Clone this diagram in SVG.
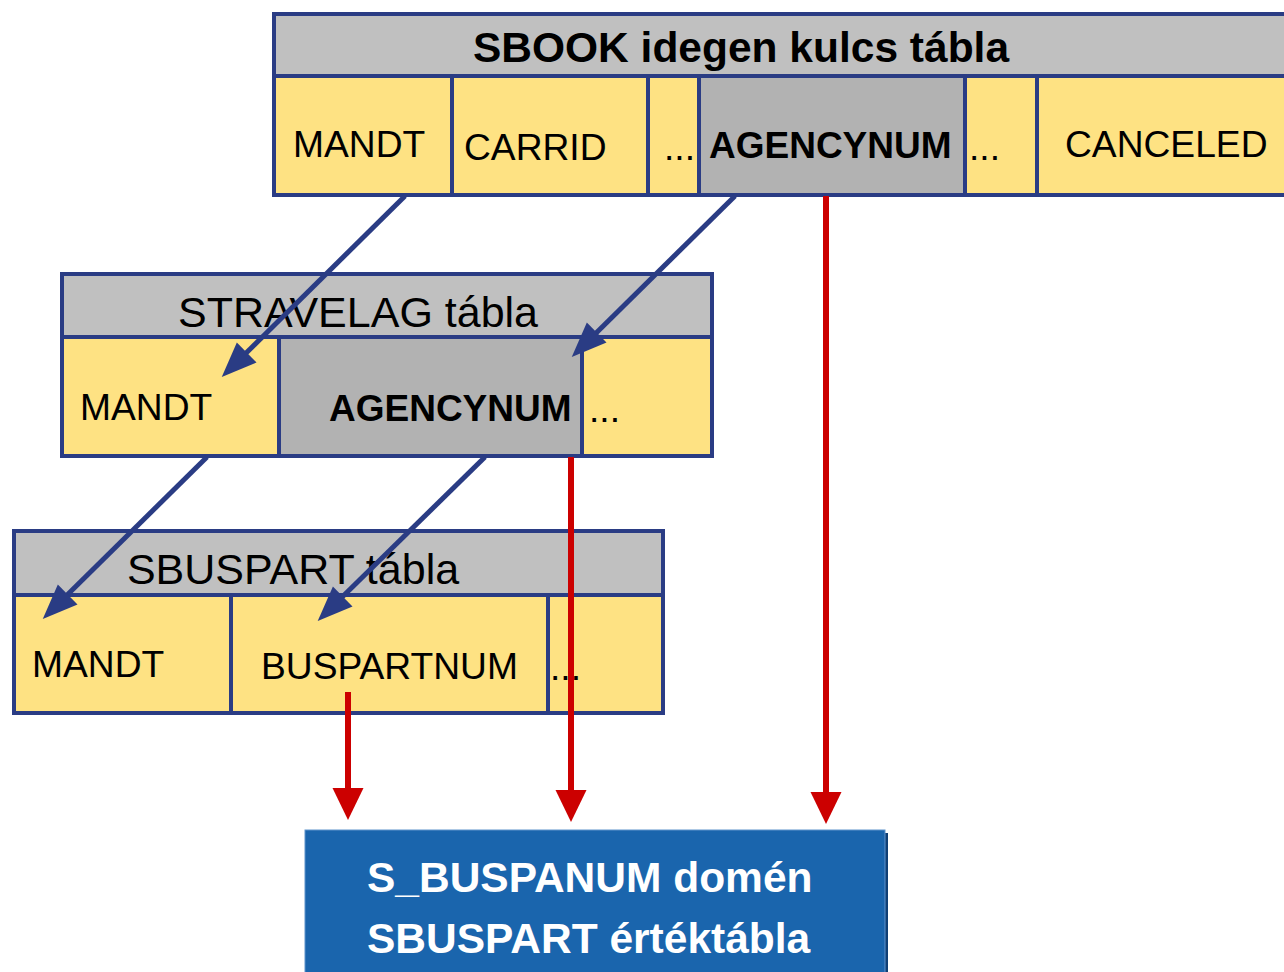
<svg xmlns="http://www.w3.org/2000/svg" width="1284" height="972" viewBox="0 0 1284 972">
<style>
.hdr{fill:#c0c0c0}
.cell{fill:#fee283}
.key{fill:#b2b2b2}
.frame{fill:none;stroke:#2a3c84;stroke-width:4}
.div{stroke:#2a3c84;stroke-width:4}
.t{font-family:"Liberation Sans",Arial,sans-serif;fill:#000}
.n{font-size:37.2px}
.b{font-size:37px;font-weight:bold}
.h{font-size:43px}
.hb{font-size:42.5px;font-weight:bold}
.w{font-family:"Liberation Sans",Arial,sans-serif;font-size:42.5px;font-weight:bold;fill:#fff}
.blue{stroke:#2a3c84;stroke-width:5;fill:none;marker-end:url(#ab)}
.red{stroke:#cc0000;stroke-width:6;fill:none;marker-end:url(#ar)}
</style>
<defs>
<marker id="ab" markerUnits="userSpaceOnUse" viewBox="-36 -16 38 32" markerWidth="38" markerHeight="32" refX="-20" refY="0" orient="auto">
<path d="M0,0 L-35,-14 L-35,14 Z" fill="#2a3c84"/>
</marker>
<marker id="ar" markerUnits="userSpaceOnUse" viewBox="-34 -17 36 34" markerWidth="36" markerHeight="34" refX="-20" refY="0" orient="auto">
<path d="M0,0 L-32,-15.5 L-32,15.5 Z" fill="#cc0000"/>
</marker>
</defs>
<rect width="1284" height="972" fill="#fff"/>

<g id="sbook">
<rect class="hdr" x="274" y="14" width="1014" height="62"/>
<rect class="cell" x="274" y="76" width="1014" height="119"/>
<rect class="key" x="699" y="76" width="266" height="119"/>
<rect class="frame" x="274" y="14" width="1014" height="181"/>
<line class="div" x1="274" y1="76" x2="1288" y2="76"/>
<line class="div" x1="452" y1="76" x2="452" y2="195"/>
<line class="div" x1="648" y1="76" x2="648" y2="195"/>
<line class="div" x1="699" y1="76" x2="699" y2="195"/>
<line class="div" x1="965" y1="76" x2="965" y2="195"/>
<line class="div" x1="1037" y1="76" x2="1037" y2="195"/>
<text class="t hb" x="741" y="62" text-anchor="middle">SBOOK idegen kulcs tábla</text>
<text class="t n" x="293" y="157">MANDT</text>
<text class="t n" x="464" y="160">CARRID</text>
<text class="t n" x="664" y="160">...</text>
<text class="t b" x="709" y="158">AGENCYNUM</text>
<text class="t n" x="969" y="160">...</text>
<text class="t n" x="1065" y="157">CANCELED</text>
</g>

<g id="stravelag">
<rect class="hdr" x="62" y="274" width="650" height="63"/>
<rect class="cell" x="62" y="337" width="650" height="119"/>
<rect class="key" x="279" y="337" width="303" height="119"/>
<rect class="frame" x="62" y="274" width="650" height="182"/>
<line class="div" x1="62" y1="337" x2="712" y2="337"/>
<line class="div" x1="279" y1="337" x2="279" y2="456"/>
<line class="div" x1="582" y1="337" x2="582" y2="456"/>
<text class="t h" x="358" y="327" text-anchor="middle">STRAVELAG tábla</text>
<text class="t n" x="80" y="420">MANDT</text>
<text class="t b" x="329" y="421">AGENCYNUM</text>
<text class="t n" x="589" y="422">...</text>
</g>

<g id="sbuspart">
<rect class="hdr" x="14" y="531" width="649" height="64"/>
<rect class="cell" x="14" y="595" width="649" height="118"/>
<rect class="frame" x="14" y="531" width="649" height="182"/>
<line class="div" x1="14" y1="595" x2="663" y2="595"/>
<line class="div" x1="231" y1="595" x2="231" y2="713"/>
<line class="div" x1="548" y1="595" x2="548" y2="713"/>
<text class="t h" x="293" y="584" text-anchor="middle">SBUSPART tábla</text>
<text class="t n" x="32" y="677">MANDT</text>
<text class="t n" x="261" y="679">BUSPARTNUM</text>
<text class="t n" x="550" y="680">...</text>
</g>

<g id="domain">
<rect x="308" y="833" width="580" height="145" fill="#0f3f75"/>
<rect x="305" y="830" width="580" height="145" fill="#1a65ad" stroke="#5f93cc" stroke-width="1"/>
<text class="w" x="367" y="892">S_BUSPANUM domén</text>
<text class="w" x="367" y="953">SBUSPART értéktábla</text>
</g>

<g id="connectors">
<line class="blue" x1="405" y1="196" x2="236" y2="363"/>
<line class="blue" x1="735" y1="196" x2="586" y2="343"/>
<line class="blue" x1="207" y1="457" x2="57" y2="605"/>
<line class="blue" x1="485" y1="457" x2="332" y2="607"/>
<line class="red" x1="826" y1="196" x2="826" y2="804"/>
<line class="red" x1="571" y1="457" x2="571" y2="802"/>
<line class="red" x1="348" y1="692" x2="348" y2="800"/>
</g>
</svg>
